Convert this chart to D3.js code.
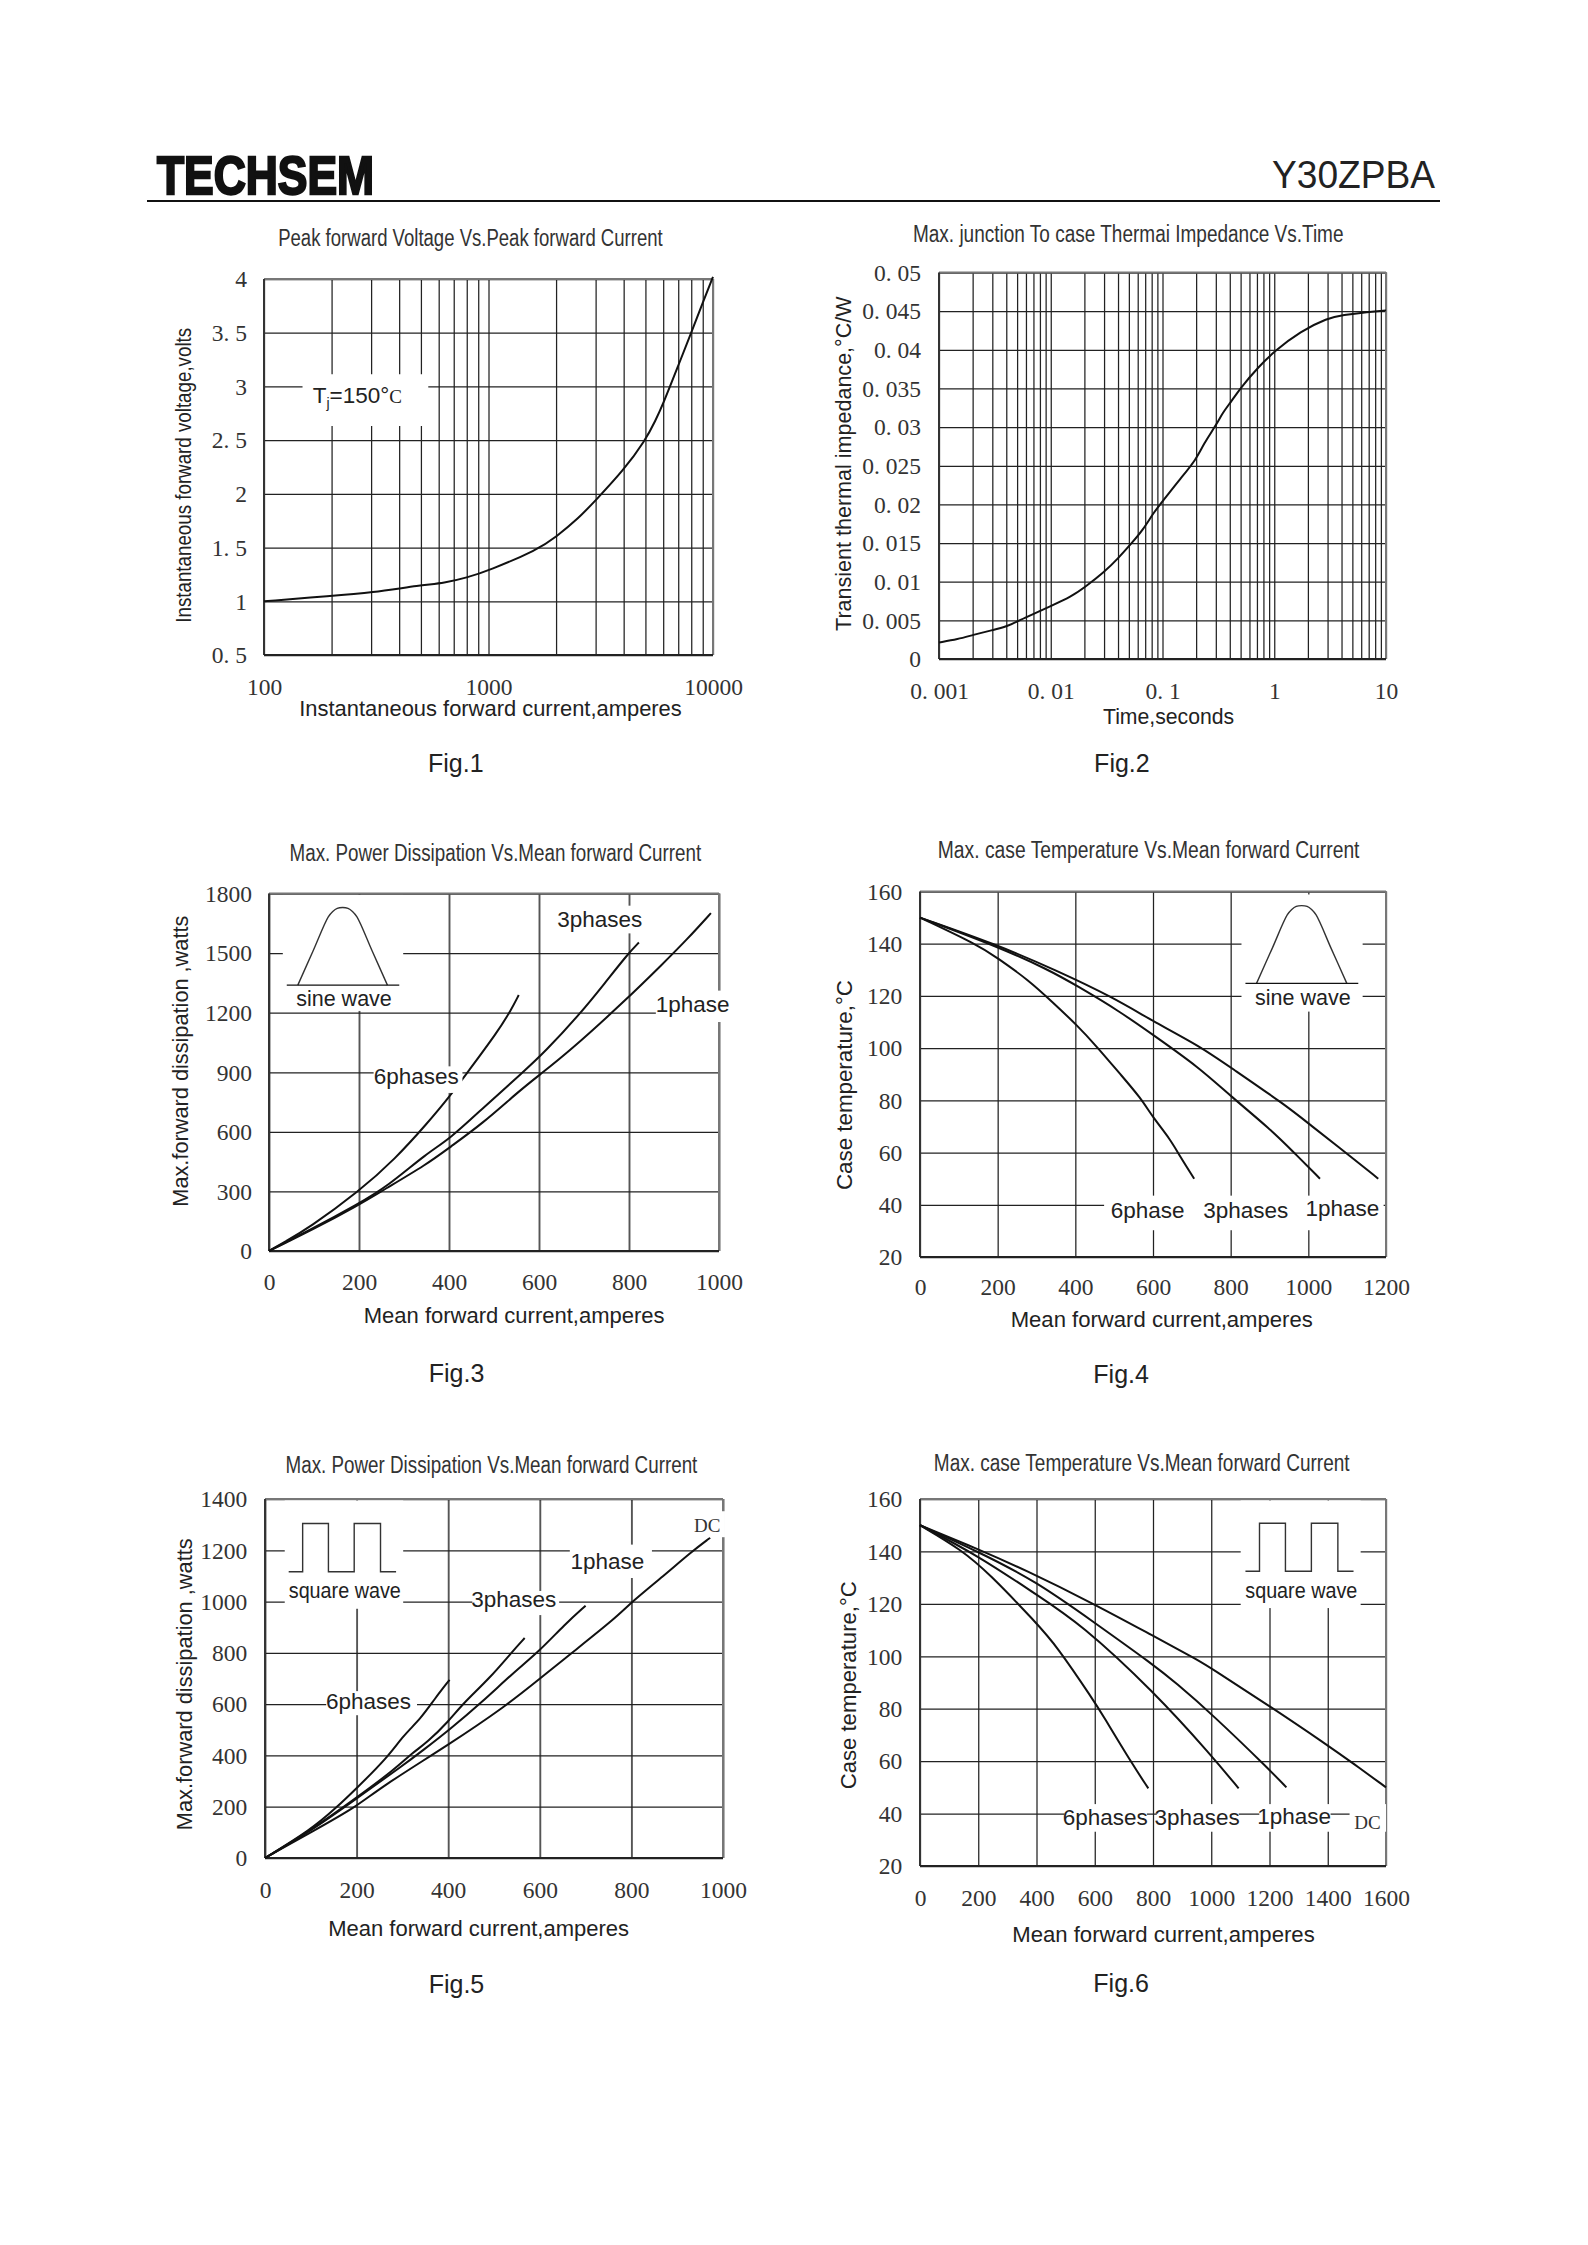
<!DOCTYPE html>
<html><head><meta charset="utf-8">
<script src="https://cdn.jsdelivr.net/npm/d3@7"></script>
<style>html,body{margin:0;background:#fff}svg{display:block}</style></head>
<body><svg id="c" width="1588" height="2245"></svg>
<script>
// ---- data ----
const fig1Current=[100,200,300,500,637,800,1000,1658,2000,2512,3000,4000,5000,5540,6030,6930,8000,9000,10000];
const fig1Voltage=[1,1.05,1.08,1.15,1.17,1.22,1.285,1.48,1.6,1.77,1.94,2.22,2.5,2.68,2.85,3.17,3.5,3.78,4.02];
const fig2Time=[.001,.00148,.002,.003,.004,.00566,.01,.0153,.02,.03,.04,.0538,.0668,.083,.1,.146,.2,.235,.3,.347,.412,.5,.724,1,1.72,3,4.09,6.9,10];
const fig2Imped=[.00214,.00256,.0031,.00374,.00417,.00524,.00684,.00807,.00924,.01122,.013,.0151,.0167,.0189,.0204,.0234,.0258,.0279,.0302,.0319,.0333,.0351,.0378,.0398,.0424,.0441,.0445,.0449,.0451];

const fig3SixX=[0,35,88,199,281,351,401,439,509,539,555];
const fig3SixY=[0,46,115,298,465,641,777,893,1106,1218,1289];
const fig3ThreeX=[0,35,88,199,263,351,401,482,561,614,693,746,798,822];
const fig3ThreeY=[0,42,102,238,325,493,562,734,893,1004,1199,1348,1497,1553];
const fig3OneX=[0,35,88,199,254,351,401,474,553,599,667,789,877,930,982];
const fig3OneY=[0,40,97,231,307,437,521,641,800,883,1004,1255,1450,1571,1701];

const fig4OneX=[0,199,352,494,607,719,800,943,1004,1096,1180];
const fig4OneY=[150,139.6,129.7,119.7,109.7,100.9,92.6,78,70.7,60,50];
const fig4ThreeX=[0,199,331,403,515,597,719,800,902,963,1030];
const fig4ThreeY=[150,139,130,124,114,105.4,92.6,81.6,69,60,50];
const fig4SixX=[0,148,199,280,342,403,456,517,568,600,645,670,706];
const fig4SixY=[150,139.6,134.6,126,117.5,109,100.5,89.8,81,73.4,65,58.4,50];

const fig5DcX=[0,100,200,250,403,526,597,672,767,802,870,931,972];
const fig5DcY=[0,100,200,273,444,593,695,803,938,1001,1100,1194,1249];
const fig5OneX=[0,100,200,302,345,402,474,543,597,655,700];
const fig5OneY=[0,105,232,362,420,499,608,724,803,912,984];
const fig5ThreeX=[0,100,200,284,323,353,402,431,491,539,567];
const fig5ThreeY=[0,108,235,347,412,449,535,600,702,803,858];
const fig5SixX=[0,100,155,200,267,302,340,371,403];
const fig5SixY=[0,110,195,272,391,478,543,622,695];

const fig6DcX=[0,197,360,597,803,958,1002,1202,1394,1489,1600];
const fig6DcY=[150,141,133,120,107.6,98.4,95.3,80.9,66.5,59,50];
const fig6OneX=[0,198,397,597,803,877,1002,1202,1258];
const fig6OneY=[150,140,128.7,113,96.6,90,78,56.5,50];
const fig6ThreeX=[0,198,397,551,803,1002,1094];
const fig6ThreeY=[150,138.5,123.7,112.5,86.5,62,49.6];
const fig6SixX=[0,143,238,397,469,597,625,728,784];
const fig6SixY=[150,140.6,131.5,113,104,83,78,59,49.6];

const logCurrentTicks=[100,200,300,400,500,600,700,800,900,1000,2000,3000,4000,5000,6000,7000,8000,9000,10000];
const logTimeTicks=[.001,.002,.003,.004,.005,.006,.007,.008,.009,.01,.02,.03,.04,.05,.06,.07,.08,.09,.1,.2,.3,.4,.5,.6,.7,.8,.9,1,2,3,4,5,6,7,8,9,10];
const fig1YTicks=[.5,1,1.5,2,2.5,3,3.5,4];
const fig1YLabels=["0. 5","1","1. 5","2","2. 5","3","3. 5","4"];
const fig2YTicks=[0,.005,.01,.015,.02,.025,.03,.035,.04,.045,.05];
const fig2YLabels=["0","0. 005","0. 01","0. 015","0. 02","0. 025","0. 03","0. 035","0. 04","0. 045","0. 05"];
const fig2XLabels={0.001:"0. 001",0.01:"0. 01",0.1:"0. 1",1:"1",10:"10"};
const fig3YTicks=[0,300,600,900,1200,1500,1800];
const x1000Ticks=[0,200,400,600,800,1000];
const x1200Ticks=[0,200,400,600,800,1000,1200];
const x1600Ticks=[0,200,400,600,800,1000,1200,1400,1600];
const tempTicks=[20,40,60,80,100,120,140,160];
const fig5YTicks=[0,200,400,600,800,1000,1200,1400];
// unit-square outlines of the two inset waveforms
const sineIconX=[0,.17,.34,.39,.44,.5,.56,.61,.66,.83,1];
const sineIconY=[0,.44,.88,.95,.99,1,.99,.95,.88,.44,0];
const squareIconX=[0,.13,.13,.37,.37,.61,.61,.855,.855,1];
const squareIconY=[0,0,1,1,0,0,1,1,0,0];

const SANS='"Liberation Sans",Arial,sans-serif', SERIF='"Liberation Serif",serif';
const svg=d3.select('#c');

// ---- page header ----
svg.append('text').attr('x',157).attr('y',194).attr('font-family',SANS).attr('font-weight',700).attr('font-size',54)
  .attr('textLength',217).attr('lengthAdjust','spacingAndGlyphs').attr('stroke','#111').attr('stroke-width',2.4).attr('fill','#111').text('TECHSEM');
svg.append('text').attr('x',1272).attr('y',188).attr('font-family',SANS).attr('font-size',38).attr('fill','#222')
  .attr('textLength',163).attr('lengthAdjust','spacingAndGlyphs').text('Y30ZPBA');
svg.append('line').attr('x1',147).attr('x2',1440).attr('y1',201).attr('y2',201).attr('stroke','#111').attr('stroke-width',2.2);

// ---- figure configs; layout anchors are given in a per-figure reference frame
// (px) mapped linearly onto the plot box.
const figs=[
 {box:[264,713,279,655],ref:[325,1432,360,1268],x:d3.scaleLog().domain([100,10000]),y:d3.scaleLinear().domain([.5,4]),
  xt:logCurrentTicks,xf:d=>[100,1000,10000].includes(d)?String(d):'',yt:fig1YTicks,yl:fig1YLabels,
  series:[[fig1Current,fig1Voltage]],xLabY:1347,yLabX:283,
  title:['Peak forward Voltage Vs.Peak forward Current',360,1308,262],
  xName:['Instantaneous forward current,amperes',412,1355,1397],
  yName:['Instantaneous forward voltage,volts',128,478,1190],fig:['Fig.1',798,1530],
  masks:[[420,730,590,715]],labels:[]},
 {box:[939,1386,272.5,659],ref:[330,1393,342,1278],x:d3.scaleLog().domain([.001,10]),y:d3.scaleLinear().domain([0,.05]),
  xt:logTimeTicks,xf:d=>fig2XLabels[d]||'',yt:fig2YTicks,yl:fig2YLabels,
  series:[[fig2Time,fig2Imped]],xLabY:1357,yLabX:287,
  title:['Max. junction To case Thermai Impedance Vs.Time',268,1292,248],
  xName:['Time,seconds',720,1032,1415],
  yName:['Transient thermal impedance,°C/W',105,400,1210],fig:['Fig.2',765,1530],masks:[],labels:[]},
 {box:[269,719,893.5,1251],grayV:true,ref:[300,1440,172,1140],x:d3.scaleLinear().domain([0,1000]),y:d3.scaleLinear().domain([0,1800]),
  xt:x1000Ticks,xf:String,yt:fig3YTicks,yl:fig3YTicks.map(String),
  series:[[fig3SixX,fig3SixY],[fig3ThreeX,fig3ThreeY],[fig3OneX,fig3OneY]],xLabY:1225,yLabX:257,
  title:['Max. Power Dissipation Vs.Mean forward Current',352,1395,62],
  xName:['Mean forward current,amperes',540,1302,1312],
  yName:['Max.forward dissipation ,watts',77,232,1020],fig:['Fig.3',775,1470],
  masks:[[335,640,176,490],[1025,1250,205,280],[1280,1462,435,520],[565,790,640,712]],
  labels:[['3phases',1138,262],['1phase',1373,493],['6phases',673,688],['sine wave',490,477]],
  icon:['sine',345,630,373,600,420,210]},
 {box:[920,1386,891.5,1257],ref:[255,1432,167,1150],x:d3.scaleLinear().domain([0,1200]),y:d3.scaleLinear().domain([20,160]),
  xt:x1200Ticks,xf:String,yt:tempTicks,yl:tempTicks.map(String),
  series:[[fig4OneX,fig4OneY],[fig4ThreeX,fig4ThreeY],[fig4SixX,fig4SixY]],xLabY:1232,yLabX:210,
  title:['Max. case  Temperature Vs.Mean forward Current',300,1365,56],
  xName:['Mean forward current,amperes',484,1247,1318],
  yName:['Case  temperature,°C',65,405,970],fig:['Fig.4',763,1466],
  masks:[[1067,1373,175,490],[720,1426,985,1078]],
  labels:[['6phase',830,1045],['3phases',1078,1045],['1phase',1322,1040],['sine wave',1222,472]],
  icon:['sine',1077,1362,1105,1333,414,205]},
 {box:[265,723,1499,1858],grayV:true,ref:[290,1450,132,1100],x:d3.scaleLinear().domain([0,1000]),y:d3.scaleLinear().domain([0,1400]),
  xt:x1000Ticks,xf:String,yt:fig5YTicks,yl:fig5YTicks.map(String),
  series:[[fig5DcX,fig5DcY],[fig5OneX,fig5OneY],[fig5ThreeX,fig5ThreeY],[fig5SixX,fig5SixY]],xLabY:1187,yLabX:245,
  title:['Max. Power Dissipation Vs.Mean forward Current',342,1385,40],
  xName:['Mean forward current,amperes',450,1212,1290],
  yName:['Max.forward dissipation ,watts',87,238,1025],fig:['Fig.5',775,1441],
  masks:[[340,640,136,428],[1062,1270,255,345],[815,1035,380,445],[445,675,650,715],[1380,1455,165,235]],
  labels:[['1phase',1157,320],['3phases',920,423],['6phases',552,698],['square wave',492,400]],
  dc:[1410,220],icon:['square',350,622,0,0,328,198]},
 {box:[920,1386,1499,1866],ref:[255,1432,132,1128],x:d3.scaleLinear().domain([0,1600]),y:d3.scaleLinear().domain([20,160]),
  xt:x1600Ticks,xf:String,yt:tempTicks,yl:tempTicks.map(String),
  series:[[fig6DcX,fig6DcY],[fig6OneX,fig6OneY],[fig6ThreeX,fig6ThreeY],[fig6SixX,fig6SixY]],xLabY:1216,yLabX:210,
  title:['Max. case Temperature Vs.Mean forward Current',290,1340,35],
  xName:['Mean forward current,amperes',488,1252,1312],
  yName:['Case  temperature,°C',75,355,920],fig:['Fig.6',763,1445],
  masks:[[1065,1368,136,428],[620,828,960,1035],[853,1060,960,1035],[1112,1292,960,1035],[1340,1432,960,1035]],
  labels:[['6phases',723,1017],['3phases',955,1017],['1phase',1200,1013],['square wave',1218,400]],
  dc:[1385,1028],icon:['square',1077,1350,0,0,328,198]}
];

figs.forEach(f=>{
  const [x0,x1,y0,y1]=f.box,[rx0,rx1,ry0,ry1]=f.ref;
  const rx=d3.scaleLinear().domain([rx0,rx1]).range([x0,x1]);
  const ry=d3.scaleLinear().domain([ry0,ry1]).range([y0,y1]);
  const X=f.x.copy().range([x0,x1]), Y=f.y.copy().range([y1,y0]);
  const g=svg.append('g');

  // grid + tick labels through d3 axes
  const ax=g.append('g').attr('transform',`translate(0,${y1})`)
    .call(d3.axisBottom(X).tickValues(f.xt).tickFormat(f.xf).tickSize(-(y1-y0)).tickSizeOuter(0));
  const yMap=new Map(f.yt.map((v,i)=>[v,f.yl[i]]));
  const ay=g.append('g').attr('transform',`translate(${x0},0)`)
    .call(d3.axisLeft(Y).tickValues(f.yt).tickFormat(d=>yMap.get(d)).tickSize(-(x1-x0)).tickSizeOuter(0));
  [ax,ay].forEach(a=>{a.select('.domain').remove();
    a.selectAll('.tick line').attr('stroke','#222').attr('stroke-width',1.25);
    a.selectAll('text').attr('font-family',SERIF).attr('font-size',23.5).attr('fill','#333');});
  if(f.grayV) ax.selectAll('.tick line').attr('stroke','#555').attr('stroke-width',1.9);
  ax.selectAll('text').attr('y',ry(f.xLabY)-y1).attr('dy','.33em');
  ay.selectAll('text').attr('x',rx(f.yLabX)-x0).attr('dy','.33em');

  // plot frame
  const frame=(a,b,c,d,col)=>g.append('line').attr('x1',a).attr('x2',b).attr('y1',c).attr('y2',d).attr('stroke',col).attr('stroke-width',2);
  frame(x0,x1,y0,y0,'#777');frame(x1,x1,y0,y1,'#777');frame(x0,x0,y0,y1,'#333');frame(x0,x1,y1,y1,'#222');

  // curves
  const line=d3.line().x(d=>X(d[0])).y(d=>Y(d[1])).curve(d3.curveBasis);
  f.series.forEach(([xs,ys])=>{
    g.append('path').datum(xs.map((v,i)=>[v,ys[i]])).attr('d',line)
     .attr('fill','none').attr('stroke','#111').attr('stroke-width',2);
  });

  // white cut-outs behind the annotations
  f.masks.forEach(([a,b,c,d])=>g.append('rect').attr('x',rx(a)).attr('y',ry(c)).attr('width',rx(b)-rx(a)).attr('height',ry(d)-ry(c)).attr('fill','#fff'));

  // inset waveform
  if(f.icon){
    const [kind,a,b,a2,b2,lo,hi]=f.icon;
    const ix=kind==='sine'?sineIconX:squareIconX, iy=kind==='sine'?sineIconY:squareIconY;
    const sx=d3.scaleLinear().domain([0,1]).range(kind==='sine'?[rx(a2),rx(b2)]:[rx(a),rx(b)]);
    const sy=d3.scaleLinear().domain([0,1]).range([ry(lo),ry(hi)]);
    g.append('path').datum(ix.map((v,i)=>[v,iy[i]]))
     .attr('d',(kind==='sine'?d3.line().curve(d3.curveCatmullRom):d3.line()).x(d=>sx(d[0])).y(d=>sy(d[1])))
     .attr('fill','none').attr('stroke','#333').attr('stroke-width',1.4);
    if(kind==='sine') g.append('line').attr('x1',rx(a)).attr('x2',rx(b)).attr('y1',ry(lo)).attr('y2',ry(lo)).attr('stroke','#111').attr('stroke-width',1.4);
  }

  // curve labels
  f.labels.forEach(([t,a,b])=>{
    const el=g.append('text').attr('x',rx(a)).attr('y',ry(b)).attr('text-anchor','middle')
      .attr('font-family',SANS).attr('font-size',t.includes('wave')?21.5:22.5).attr('fill','#222').text(t);
    if(t==='square wave') el.attr('textLength',112).attr('lengthAdjust','spacingAndGlyphs');
  });
  if(f.dc) g.append('text').attr('x',rx(f.dc[0])).attr('y',ry(f.dc[1])).attr('text-anchor','middle').attr('font-family',SERIF).attr('font-size',19).attr('fill','#333').text('DC');

  // Tj annotation (fig 1)
  if(f===figs[0]){
    const t=g.append('text').attr('x',rx(445)).attr('y',ry(660)).attr('font-family',SANS).attr('font-size',22.5).attr('fill','#222');
    t.append('tspan').text('T');
    t.append('tspan').attr('font-size',14).attr('dy',5).text('j');
    t.append('tspan').attr('dy',-5).text('=150°');
    t.append('tspan').attr('font-family',SERIF).attr('font-size',19).text('C');
  }

  // titles and axis names (condensed by length, as in the source)
  const [tt,ta,tb,ty]=f.title;
  g.append('text').attr('x',rx(ta)).attr('y',ry(ty)+8).attr('font-family',SANS).attr('font-size',23).attr('fill','#333')
   .attr('textLength',rx(tb)-rx(ta)).attr('lengthAdjust','spacingAndGlyphs').text(tt);
  const [xn,xa,xb,xy]=f.xName;
  g.append('text').attr('x',rx(xa)).attr('y',ry(xy)+8).attr('font-family',SANS).attr('font-size',22).attr('fill','#222')
   .attr('textLength',rx(xb)-rx(xa)).attr('lengthAdjust','spacingAndGlyphs').text(xn);
  const [yn,yx,ya,yb]=f.yName;
  g.append('text').attr('transform',`translate(${rx(yx)+7},${ry(yb)}) rotate(-90)`).attr('font-family',SANS).attr('font-size',21.5).attr('fill','#222')
   .attr('textLength',ry(yb)-ry(ya)).attr('lengthAdjust','spacingAndGlyphs').text(yn);
  g.append('text').attr('x',rx(f.fig[1])).attr('y',ry(f.fig[2])+9).attr('text-anchor','middle').attr('font-family',SANS).attr('font-size',25).attr('fill','#222').text(f.fig[0]);
});
</script></body></html>
